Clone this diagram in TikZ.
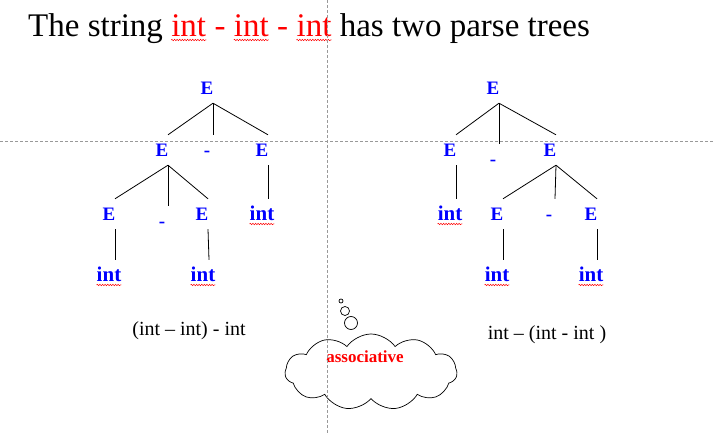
\documentclass[tikz,border=0pt]{standalone}
\usepackage{fontspec}
\setmainfont{Liberation Serif}
\usetikzlibrary{shapes.symbols, positioning, decorations.pathmorphing}

\begin{document}
\begin{tikzpicture}[
    x=1pt, y=-1pt,
    sym/.style={text=blue, inner sep=0, minimum height=30, text height=12.5, text depth=0,
        font=\fontsize{19}{19}\selectfont\bfseries},
    leaf/.style={sym, text height=14, font=\fontsize{21}{21}\selectfont\bfseries},
    head/.style={inner sep=0, font=\fontsize{33}{33}\selectfont},
    branch/.style={line width=0.8pt},
    squiggle/.style={red, line width=0.5pt, decorate, decoration={snake, amplitude=0.7pt, segment length=2.6pt}},
    guide/.style={gray!80, line width=0.6pt, dash pattern=on 3pt off 2pt},
]
\useasboundingbox (0,0) rectangle (715,435);

\node[head, anchor=base west] (t1) at (28,37) {The string};
\node[head, text=red, base right=8pt of t1] (t2) {int};
\node[head, text=red, base right=8pt of t2] (t3) {-};
\node[head, text=red, base right=8pt of t3] (t4) {int};
\node[head, text=red, base right=8pt of t4] (t5) {-};
\node[head, text=red, base right=8pt of t5] (t6) {int};
\node[head, base right=8pt of t6] (t7) {has two parse trees};

\node[sym] (lR) at (207,88) {E};
\node[sym] (lA) at (162,150) {E};
\node[sym] (lM) at (207,150) {-};
\node[sym] (lB) at (262,150) {E};
\node[sym] (lC) at (109,214) {E};
\node[sym] (lN) at (162,221) {-};
\node[sym] (lD) at (202,214) {E};
\node[leaf] (lF) at (262,214) {int};
\node[leaf] (lG) at (109,275) {int};
\node[leaf] (lH) at (203,275) {int};

\node[sym] (rR) at (493,88) {E};
\node[sym] (rA) at (450,150) {E};
\node[sym] (rM) at (493,159) {-};
\node[sym] (rB) at (550,150) {E};
\node[leaf] (rC) at (450,214) {int};
\node[sym] (rD) at (497,214) {E};
\node[sym] (rN) at (549,214) {-};
\node[sym] (rE) at (591,214) {E};
\node[leaf] (rF) at (497,275) {int};
\node[leaf] (rG) at (591,275) {int};

\foreach \p/\c in {lR/lA, lR/lM, lR/lB, lA/lC, lA/lN, lA/lD, lB/lF, lC/lG, lD/lH,
                   rR/rA, rR/rM, rR/rB, rA/rC, rB/rD, rB/rN, rB/rE, rD/rF, rE/rG}
    \draw[branch] ([xshift=6]\p.south) -- ([xshift=6]\c.north);

\foreach \n in {t2, t4, t6, lF, lG, lH, rC, rF, rG}
    \draw[squiggle] ([yshift=-3]\n.base west) -- ([yshift=-3]\n.base east);

\node[anchor=base, font=\fontsize{20}{20}\selectfont] (leftcap) at (189,336) {(int -- int) - int};
\node[anchor=base, font=\fontsize{20}{20}\selectfont] (rightcap) at (547,340) {int -- (int - int )};

\node[cloud, draw, fill=white, line width=0.7pt, cloud puffs=11, cloud puff arc=110, aspect=2.2,
      minimum width=172, minimum height=76, inner sep=0] (thought) at (371,372) {};
\node[text=red, font=\fontsize{17}{17}\selectfont\bfseries] (assoc) at (365,357) {associative};
\foreach \bx/\by/\br in {341/301/2, 345/311/4.5, 351/323/6.5}
    \draw[line width=0.7pt] (\bx,\by) circle (\br);

\draw[guide] (0,141) -- (715,141);
\draw[guide] (327,0) -- (327,435);
\end{tikzpicture}
\end{document}
